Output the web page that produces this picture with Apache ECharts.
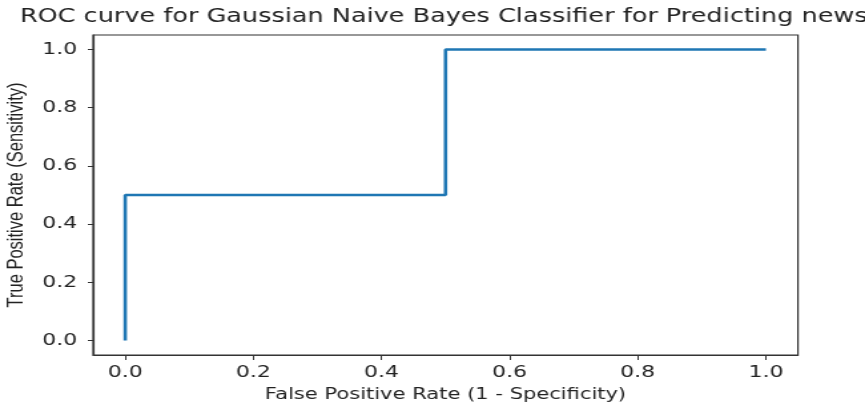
<!DOCTYPE html>
<html><head><meta charset="utf-8">
<script src="https://cdn.jsdelivr.net/npm/echarts@6/dist/echarts.min.js"></script>
<style>html,body{margin:0;padding:0;background:#fff;overflow:hidden}
#c{width:650px;height:402px;transform:scaleX(1.3308);transform-origin:0 0}</style>
</head><body><div id="c"></div>
<script>
const fpr = [0.0, 0.0, 0.5, 0.5, 1.0];
const tpr = [0.0, 0.5, 0.5, 1.0, 1.0];
const xTicks = [0.0, 0.2, 0.4, 0.6, 0.8, 1.0];
const yTicks = [0.0, 0.2, 0.4, 0.6, 0.8, 1.0];
const font = 'DejaVu Sans';
const chart = echarts.init(document.getElementById('c'));
chart.setOption({
  animation: false,
  title: {text: 'ROC curve for Gaussian Naive Bayes Classifier for Predicting news', left: 328.4, top: 3, textAlign: 'center',
    textStyle: {fontFamily: font, fontSize: 19.2, fontWeight: 'normal', color: '#222'}},
  grid: {left: 70, right: 50.4, top: 35, bottom: 47, outerBoundsMode: 'none', containLabel: false,
    show: true, borderColor: '#333', borderWidth: 1.2, backgroundColor: '#fff'},
  xAxis: {type: 'value', min: -0.05, max: 1.05,
    name: 'False Positive Rate (1 - Specificity)', nameLocation: 'middle', nameGap: 32,
    nameTextStyle: {fontFamily: font, fontSize: 15.8, color: '#222'},
    axisLine: {show: true, onZero: false, lineStyle: {color: '#333', width: 1.2}},
    splitLine: {show: false},
    axisLabel: {fontFamily: font, fontSize: 16.5, color: '#222', margin: 9,
      customValues: xTicks, formatter: v => v.toFixed(1)},
    axisTick: {show: true, length: 5, customValues: xTicks, lineStyle: {color: '#333'}}
  },
  yAxis: {type: 'value', min: -0.05, max: 1.05,
    name: 'True Positive Rate (Sensitivity)', nameLocation: 'middle', nameGap: 44,
    nameTextStyle: {fontFamily: 'Liberation Sans Narrow, Liberation Sans', fontSize: 16.5, color: '#222'},
    axisLine: {show: true, onZero: false, lineStyle: {color: '#333', width: 1.2}},
    splitLine: {show: false},
    axisLabel: {fontFamily: font, fontSize: 16.5, color: '#222', margin: 12,
      customValues: yTicks, formatter: v => v.toFixed(1)},
    axisTick: {show: true, length: 4, customValues: yTicks, lineStyle: {color: '#333'}}
  },
  series: [{type: 'line', data: fpr.map((x, i) => [x, tpr[i]]), symbol: 'none',
    lineStyle: {color: '#1f77b4', width: 2.6}}]
});
</script></body></html>
